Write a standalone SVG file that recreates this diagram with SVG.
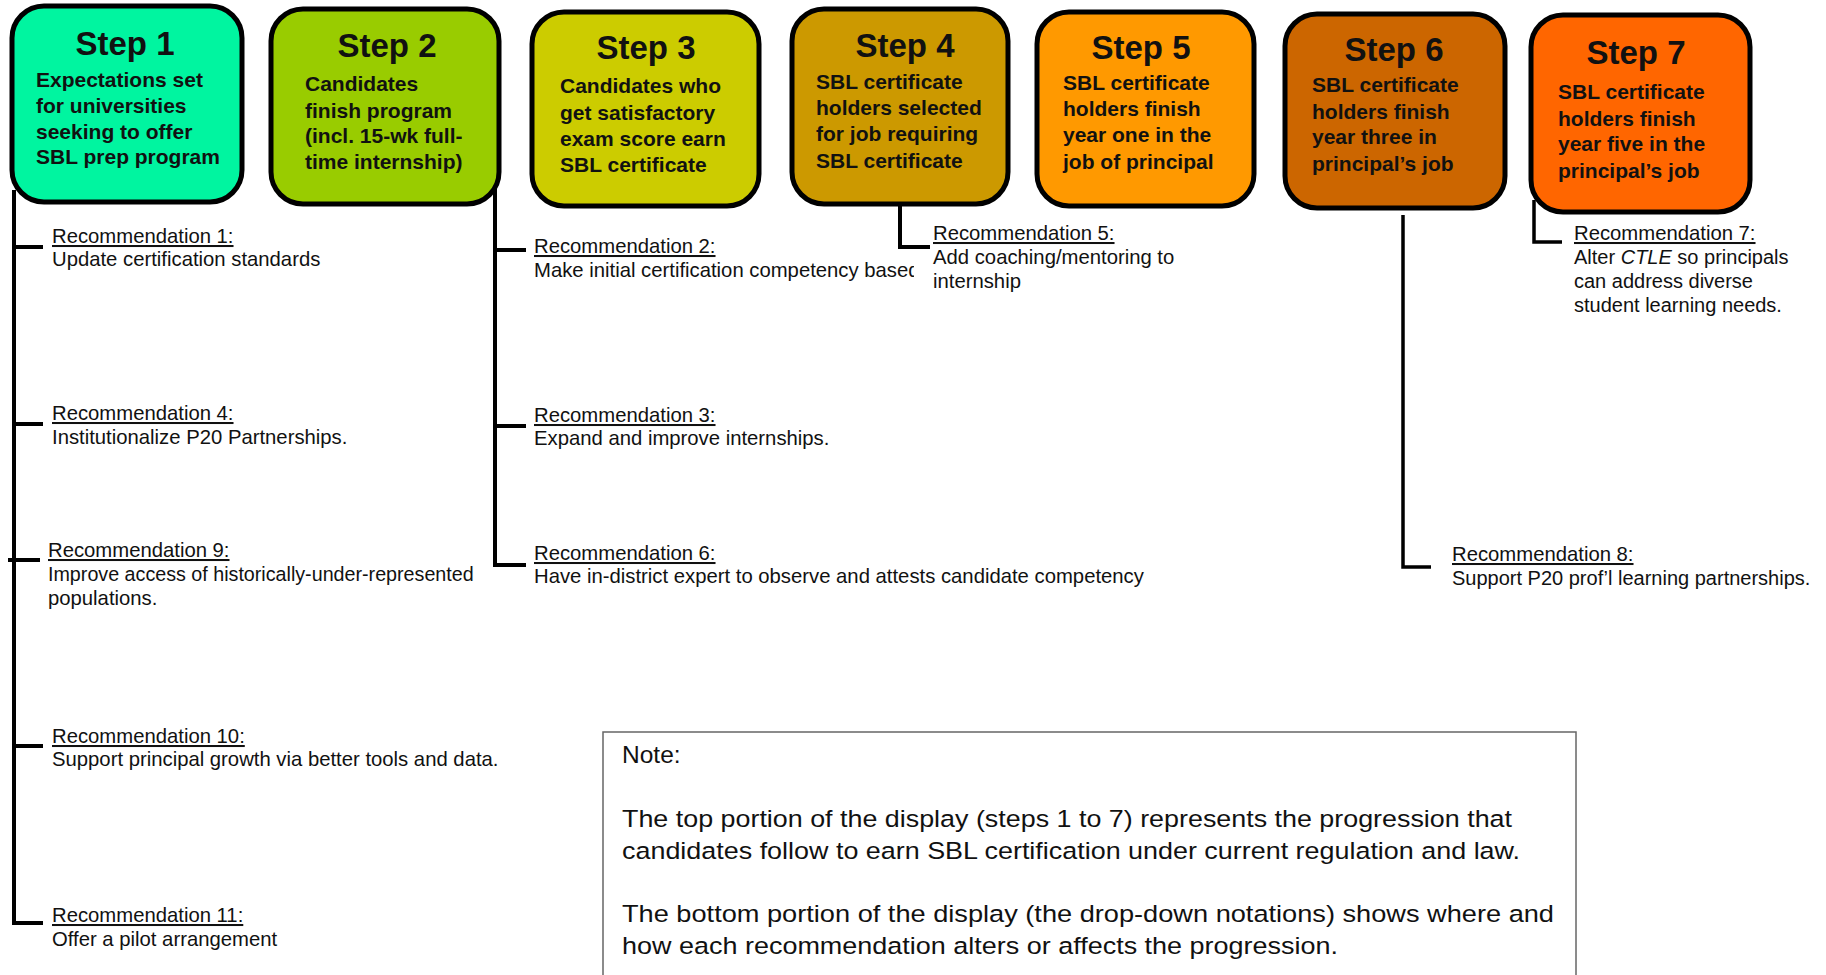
<svg xmlns="http://www.w3.org/2000/svg" width="1826" height="975" viewBox="0 0 1826 975">
<style>
.box{stroke:#000;stroke-width:5}
.title{font-family:"Liberation Sans",Arial,sans-serif;font-weight:bold;font-size:33px;fill:#111;text-anchor:middle}
.body{font-family:"Liberation Sans",Arial,sans-serif;font-weight:bold;font-size:21px;fill:#111}
.lbl{font-family:"Liberation Sans",Arial,sans-serif;font-size:20.3px;fill:#111;text-decoration:underline}
.txt{font-family:"Liberation Sans",Arial,sans-serif;font-size:20.3px;fill:#111}
.note{font-family:"Liberation Sans",Arial,sans-serif;font-size:24.5px;fill:#111}
.con{fill:none;stroke:#000;stroke-width:4;stroke-linejoin:miter}
</style>
<defs>
<clipPath id="clip2"><rect x="520" y="230" width="394" height="60"/></clipPath>
</defs>
<rect width="1826" height="975" fill="#fff"/>
<g id="connectors">
<path class="con" d="M14 190 V923 H43"/>
<path class="con" d="M14 247 H43"/>
<path class="con" d="M14 424 H43"/>
<path class="con" d="M8 560 H40"/>
<path class="con" d="M14 746 H43"/>
<path class="con" d="M495 180 V565 H526"/>
<path class="con" d="M495 250 H526"/>
<path class="con" d="M495 426 H526"/>
<path class="con" d="M900 200 V247 H930"/>
<path class="con" d="M1403 215 V567 H1431" style="stroke-width:3.5"/>
<path class="con" d="M1534 200 V242 H1562" style="stroke-width:3.5"/>
</g>
<g id="step1">
<rect class="box" x="12" y="6" width="230" height="196" rx="32" fill="#00F5A0"/>
<text class="title" x="125" y="55">Step 1</text>
<text class="body" x="36" y="87">Expectations set</text>
<text class="body" x="36" y="113">for universities</text>
<text class="body" x="36" y="139">seeking to offer</text>
<text class="body" x="36" y="164">SBL prep program</text>
</g>
<g id="step2">
<rect class="box" x="271" y="9" width="228" height="195" rx="32" fill="#99CC00"/>
<text class="title" x="387" y="57">Step 2</text>
<text class="body" x="305" y="91">Candidates</text>
<text class="body" x="305" y="118">finish program</text>
<text class="body" x="305" y="143">(incl. 15-wk full-</text>
<text class="body" x="305" y="169">time internship)</text>
</g>
<g id="step3">
<rect class="box" x="532" y="12" width="227" height="194" rx="32" fill="#CCCC00"/>
<text class="title" x="646" y="59">Step 3</text>
<text class="body" x="560" y="93">Candidates who</text>
<text class="body" x="560" y="120">get satisfactory</text>
<text class="body" x="560" y="146">exam score earn</text>
<text class="body" x="560" y="172">SBL certificate</text>
</g>
<g id="step4">
<rect class="box" x="792" y="9" width="216" height="195" rx="32" fill="#CC9900"/>
<text class="title" x="905" y="57">Step 4</text>
<text class="body" x="816" y="89">SBL certificate</text>
<text class="body" x="816" y="115">holders selected</text>
<text class="body" x="816" y="141">for job requiring</text>
<text class="body" x="816" y="168">SBL certificate</text>
</g>
<g id="step5">
<rect class="box" x="1037" y="12" width="217" height="194" rx="32" fill="#FF9900"/>
<text class="title" x="1141" y="59">Step 5</text>
<text class="body" x="1063" y="90">SBL certificate</text>
<text class="body" x="1063" y="116">holders finish</text>
<text class="body" x="1063" y="142">year one in the</text>
<text class="body" x="1063" y="169">job of principal</text>
</g>
<g id="step6">
<rect class="box" x="1285" y="14" width="220" height="194" rx="32" fill="#CC6600"/>
<text class="title" x="1394" y="61">Step 6</text>
<text class="body" x="1312" y="92">SBL certificate</text>
<text class="body" x="1312" y="119">holders finish</text>
<text class="body" x="1312" y="144">year three in</text>
<text class="body" x="1312" y="171">principal’s job</text>
</g>
<g id="step7">
<rect class="box" x="1531" y="15" width="219" height="197" rx="32" fill="#FF6600"/>
<text class="title" x="1636" y="64">Step 7</text>
<text class="body" x="1558" y="99">SBL certificate</text>
<text class="body" x="1558" y="126">holders finish</text>
<text class="body" x="1558" y="151">year five in the</text>
<text class="body" x="1558" y="178">principal’s job</text>
</g>
<g id="rec1">
<text class="lbl" x="52" y="243">Recommendation 1:</text>
<text class="txt" x="52" y="266">Update certification standards</text>
</g>
<g id="rec4">
<text class="lbl" x="52" y="420">Recommendation 4:</text>
<text class="txt" x="52" y="444">Institutionalize P20 Partnerships.</text>
</g>
<g id="rec9">
<text class="lbl" x="48" y="557">Recommendation 9:</text>
<text class="txt" x="48" y="581" style="font-size:19.7px">Improve access of historically-under-represented</text>
<text class="txt" x="48" y="605">populations.</text>
</g>
<g id="rec10">
<text class="lbl" x="52" y="743">Recommendation 10:</text>
<text class="txt" x="52" y="766">Support principal growth via better tools and data.</text>
</g>
<g id="rec11">
<text class="lbl" x="52" y="922">Recommendation 11:</text>
<text class="txt" x="52" y="946">Offer a pilot arrangement</text>
</g>
<g id="rec2">
<text class="lbl" x="534" y="253">Recommendation 2:</text>
<text class="txt" x="534" y="277" clip-path="url(#clip2)">Make initial certification competency based</text>
</g>
<g id="rec3">
<text class="lbl" x="534" y="422">Recommendation 3:</text>
<text class="txt" x="534" y="445">Expand and improve internships.</text>
</g>
<g id="rec6">
<text class="lbl" x="534" y="560">Recommendation 6:</text>
<text class="txt" x="534" y="583">Have in-district expert to observe and attests candidate competency</text>
</g>
<g id="rec5">
<text class="lbl" x="933" y="240">Recommendation 5:</text>
<text class="txt" x="933" y="264">Add coaching/mentoring to</text>
<text class="txt" x="933" y="288">internship</text>
</g>
<g id="rec7">
<text class="lbl" x="1574" y="240">Recommendation 7:</text>
<text class="txt" x="1574" y="264" style="font-size:20px">Alter <tspan font-style="italic">CTLE</tspan> so principals</text>
<text class="txt" x="1574" y="288" style="font-size:20px">can address diverse</text>
<text class="txt" x="1574" y="312" style="font-size:20px">student learning needs.</text>
</g>
<g id="rec8">
<text class="lbl" x="1452" y="561">Recommendation 8:</text>
<text class="txt" x="1452" y="585" style="font-size:20px">Support P20 prof’l learning partnerships.</text>
</g>
<g id="note">
<rect x="603" y="732" width="973" height="260" fill="#fff" stroke="#666" stroke-width="1.5"/>
<text class="note" x="622" y="763">Note:</text>
<text class="note" x="622" y="827" textLength="890" lengthAdjust="spacingAndGlyphs">The top portion of the display (steps 1 to 7) represents the progression that</text>
<text class="note" x="622" y="859" textLength="898" lengthAdjust="spacingAndGlyphs">candidates follow to earn SBL certification under current regulation and law.</text>
<text class="note" x="622" y="922" textLength="932" lengthAdjust="spacingAndGlyphs">The bottom portion of the display (the drop-down notations) shows where and</text>
<text class="note" x="622" y="954" textLength="716" lengthAdjust="spacingAndGlyphs">how each recommendation alters or affects the progression.</text>
</g>
</svg>
